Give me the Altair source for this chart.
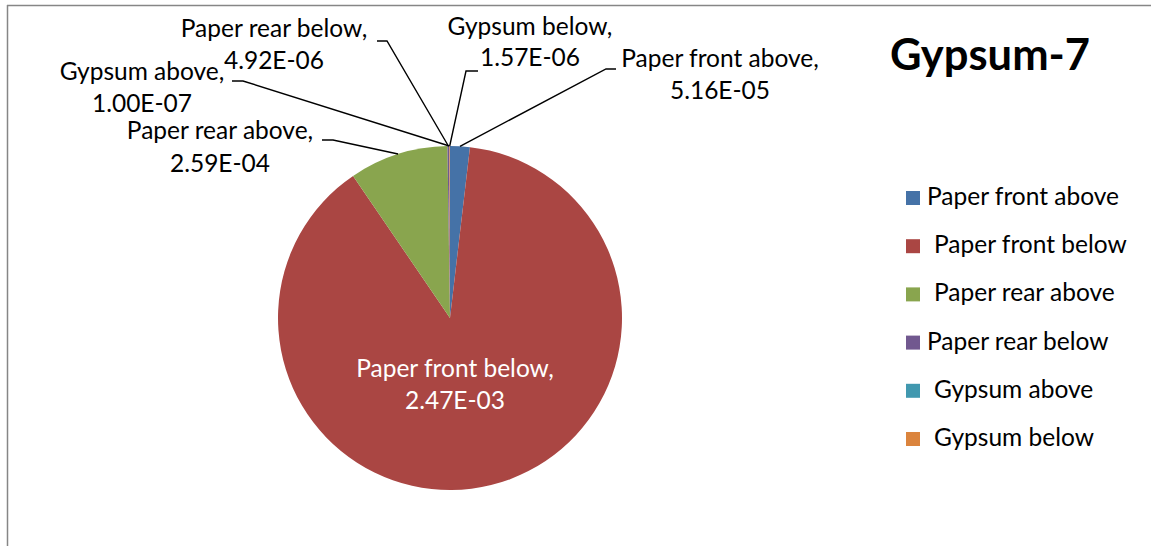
import math

import altair as alt
import pandas as pd

# ---- data -----------------------------------------------------------------
categories = ["Paper front above", "Paper front below", "Paper rear above",
              "Paper rear below", "Gypsum above", "Gypsum below"]
values = [5.16e-05, 2.47e-03, 2.59e-04, 4.92e-06, 1.00e-07, 1.57e-06]
colors = ["#4572A7", "#AA4643", "#89A54E", "#71588F", "#4198AF", "#DB843D"]
# series whose legend entries carry a leading space in the workbook
indented = ["Paper front below", "Paper rear above", "Gypsum above", "Gypsum below"]
chart_title = "Gypsum-7"

# ---- layout ---------------------------------------------------------------
W, H = 1151, 546
CX, CY, R = 450, 318, 172
FONT = "Lato"
FS = 24.5

# data-label placement: centre x, y of line 1, y of line 2, text colour,
# leader elbow (x at the text end, x at the pie end, y) or None
label_layout = {
    "Paper front above": (720, 60, 92, "black", (616, 606, 69)),
    "Paper front below": (455, 370, 402, "white", None),
    "Paper rear above": (220, 132, 165, "black", (322, 333, 140)),
    "Paper rear below": (274, 30, 62, "black", (377, 387, 41)),
    "Gypsum above": (142, 73, 105, "black", (232, 243, 81)),
    "Gypsum below": (530, 28, 59, "black", (478, 466, 71)),
}

pie_df = pd.DataFrame({"category": categories, "value": values,
                       "idx": list(range(len(categories)))})

# slice mid-angles on the rim (clockwise from 12 o'clock), for the leader lines
total = sum(values)
rim = {}
acc = 0.0
for c, v in zip(categories, values):
    a = 2 * math.pi * (acc + v / 2) / total
    rim[c] = (CX + R * math.sin(a), CY - R * math.cos(a))
    acc += v

text_rows, line_rows = [], []
for c, v in zip(categories, values):
    lx, y1, y2, col, elbow = label_layout[c]
    text_rows.append({"x": lx, "y": y1, "t": f"{c},", "col": col})
    text_rows.append({"x": lx, "y": y2, "t": f"{v:.2E}", "col": col})
    if elbow:
        ex0, ex1, ey = elbow
        px, py = rim[c]
        for k, (x, y) in enumerate([(ex0, ey), (ex1, ey), (px, py)]):
            line_rows.append({"category": c, "k": k, "x": x, "y": y})

text_df = pd.DataFrame(text_rows)
line_df = pd.DataFrame(line_rows)

color_scale = alt.Scale(domain=categories, range=colors)

pie = alt.Chart(pie_df).mark_arc(outerRadius=R).encode(
    x=alt.value(CX),
    y=alt.value(CY),
    theta=alt.Theta("value:Q", stack=True),
    order=alt.Order("idx:Q"),
    color=alt.Color("category:N", sort=categories, scale=color_scale, legend=None),
)

leaders = alt.Chart(line_df).mark_line(color="black", strokeWidth=1.4).encode(
    x=alt.X("x:Q", scale=None),
    y=alt.Y("y:Q", scale=None),
    detail="category:N",
    order="k:Q",
)

labels = alt.Chart(text_df).mark_text(
    font=FONT, fontSize=FS, align="center", baseline="middle"
).encode(
    x=alt.X("x:Q", scale=None),
    y=alt.Y("y:Q", scale=None),
    text="t:N",
    color=alt.Color("col:N", scale=None),
)

# legend: one row per series, square swatch + name
legend_df = pd.DataFrame({
    "category": categories,
    "row": list(range(len(categories))),
    "indent": [1 if c in indented else 0 for c in categories],
})
legend_base = alt.Chart(legend_df).transform_calculate(
    ly="198 + 48.2 * datum.row",
    lx="927 + 7 * datum.indent",
)
legend_swatch = legend_base.mark_square(size=196, opacity=1).encode(
    x=alt.value(913),
    y=alt.Y("ly:Q", scale=None),
    color=alt.Color("category:N", sort=categories, scale=color_scale, legend=None),
)
legend_text = legend_base.mark_text(
    font=FONT, fontSize=FS, align="left", baseline="middle", color="black"
).encode(
    x=alt.X("lx:Q", scale=None),
    y=alt.Y("ly:Q", scale=None),
    text="category:N",
)

title_df = pd.DataFrame({"t": [chart_title]})
title = alt.Chart(title_df).mark_text(
    font=FONT, fontSize=43.5, fontWeight="bold", align="center", baseline="middle"
).encode(x=alt.value(990), y=alt.value(57), text="t:N")

# chart-area border (top and left edges fall inside the canvas)
frame_df = pd.DataFrame({"k": [0]})
frame_top = alt.Chart(frame_df).mark_rule(color="#868686", strokeWidth=1.5).encode(
    x=alt.value(7), x2=alt.value(W), y=alt.value(5.5))
frame_left = alt.Chart(frame_df).mark_rule(color="#868686", strokeWidth=1.5).encode(
    x=alt.value(7.5), y=alt.value(5), y2=alt.value(H))

chart = alt.layer(
    frame_top, frame_left, pie, leaders, labels,
    legend_swatch, legend_text, title,
).properties(
    width=W, height=H, padding=0,
    autosize=alt.AutoSizeParams(type="none"),
    background="white",
).configure_view(stroke=None)

chart.save("out.html", embed_options={"renderer": "svg", "actions": False})
